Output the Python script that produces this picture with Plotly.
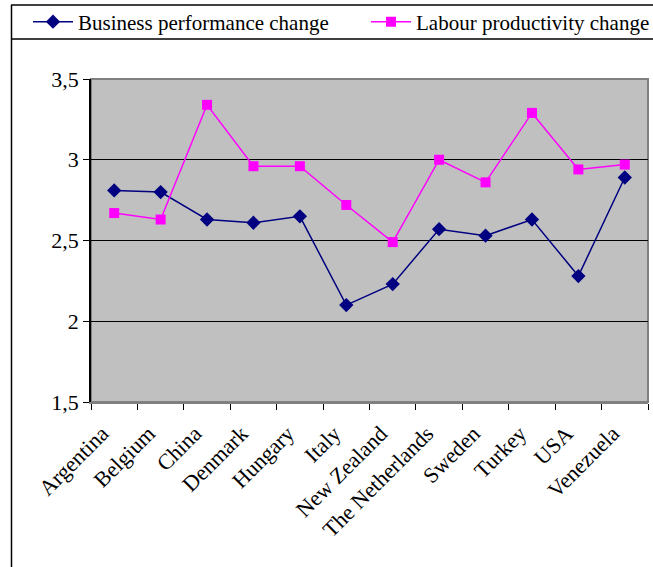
import plotly.graph_objects as go

countries = ["Argentina", "Belgium", "China", "Denmark", "Hungary", "Italy",
             "New Zealand", "The Netherlands", "Sweden", "Turkey", "USA", "Venezuela"]
business = [2.81, 2.80, 2.63, 2.61, 2.65, 2.10, 2.23, 2.57, 2.53, 2.63, 2.28, 2.89]
labour = [2.67, 2.63, 3.34, 2.96, 2.96, 2.72, 2.49, 3.00, 2.86, 3.29, 2.94, 2.97]
y_ticks = [1.5, 2, 2.5, 3, 3.5]
y_tick_text = ["1,5", "2", "2,5", "3", "3,5"]

W, H = 653, 567
L, R, T, B = 91, 648, 79, 402  # plot area in pixels
pw, ph = R - L, B - T

def px(x):
    return (x - L) / pw

def py(y):
    return (B - y) / ph

FONT = "Times New Roman, Liberation Serif, DejaVu Serif, serif"

fig = go.Figure()
fig.add_trace(go.Scatter(
    x=countries, y=business, name="Business performance change",
    mode="lines+markers", legend="legend",
    line=dict(color="#000080", width=1.5),
    marker=dict(symbol="diamond", size=11, color="#000080"),
))
fig.add_trace(go.Scatter(
    x=countries, y=labour, name="Labour productivity change",
    mode="lines+markers", legend="legend2",
    line=dict(color="#FF00FF", width=1.5),
    marker=dict(symbol="square", size=10, color="#FF00FF"),
))

shapes = [
    # outer chart frame and legend box
    dict(type="line", xref="paper", yref="paper", x0=px(11), x1=px(660), y0=py(5), y1=py(5),
         line=dict(color="black", width=1.5)),
    dict(type="line", xref="paper", yref="paper", x0=px(11), x1=px(660), y0=py(39), y1=py(39),
         line=dict(color="black", width=1.5)),
    dict(type="line", xref="paper", yref="paper", x0=px(11.5), x1=px(11.5), y0=py(5), y1=py(600),
         line=dict(color="black", width=1.5)),
    # plot area border
    dict(type="rect", xref="paper", yref="paper", x0=0, x1=1, y0=0, y1=1,
         line=dict(color="#808080", width=2), layer="below"),
]

legend_style = dict(
    orientation="h", xanchor="left", y=py(22), yanchor="middle",
    font=dict(family=FONT, size=21, color="black"),
    bgcolor="rgba(0,0,0,0)", itemwidth=40, tracegroupgap=0,
)

fig.update_layout(
    width=W, height=H,
    margin=dict(l=L, r=W - R, t=T, b=H - B, pad=0, autoexpand=False),
    paper_bgcolor="white",
    plot_bgcolor="#C0C0C0",
    font=dict(family=FONT, size=21, color="black"),
    shapes=shapes,
    showlegend=True,
    legend=dict(x=px(28), **legend_style),
    legend2=dict(x=px(366), **legend_style),
    xaxis=dict(
        type="category", tickangle=-45, tickson="boundaries",
        ticks="outside", ticklen=6, tickcolor="black", tickwidth=1,
        showgrid=False, showline=True, linecolor="#808080", linewidth=2,
        tickfont=dict(family=FONT, size=22),
        ticklabelshift=-12, ticklabelstandoff=8,
        range=[-0.5, len(countries) - 0.5],
    ),
    yaxis=dict(
        range=[1.5, 3.5], tickvals=y_ticks, ticktext=y_tick_text,
        ticks="outside", ticklen=6, tickcolor="black",
        showgrid=True, gridcolor="black", gridwidth=1,
        showline=True, linecolor="black", linewidth=1.5,
        zeroline=False, tickfont=dict(family=FONT, size=22),
    ),
)

fig.write_html("out.html")
